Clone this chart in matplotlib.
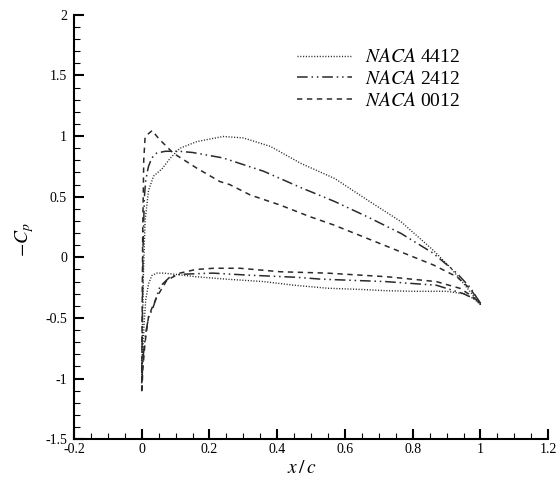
import numpy as np
import matplotlib
matplotlib.use('Agg')
import matplotlib.pyplot as plt
from matplotlib.ticker import MultipleLocator

plt.rcParams['font.family'] = ['Liberation Serif', 'DejaVu Serif']
plt.rcParams['mathtext.fontset'] = 'stix'
plt.rcParams['axes.unicode_minus'] = False

# NACA 4412 压力系数（上、下表面）
x_4412_up = [0.0, 0.002, 0.005, 0.01, 0.02, 0.035, 0.06, 0.085, 0.113, 0.163, 0.24, 0.30, 0.38,
             0.47, 0.57, 0.665, 0.765, 0.86, 0.91, 0.95, 0.98, 1.0]
cp_4412_up = [-1.0, -0.6, -0.15, 0.3, 0.55, 0.67, 0.73, 0.82, 0.90, 0.955, 0.997, 0.985, 0.915,
              0.775, 0.65, 0.475, 0.295, 0.06, -0.08, -0.215, -0.32, -0.39]
x_4412_lo = [0.0, 0.003, 0.007, 0.012, 0.02, 0.03, 0.045, 0.065, 0.10, 0.16, 0.25, 0.36, 0.45,
             0.55, 0.65, 0.72, 0.80, 0.90, 0.95, 0.98, 1.0]
cp_4412_lo = [-1.0, -0.8, -0.55, -0.35, -0.22, -0.15, -0.13, -0.13, -0.14, -0.16, -0.18, -0.20,
              -0.23, -0.255, -0.265, -0.275, -0.28, -0.28, -0.30, -0.34, -0.39]

# NACA 2412
x_2412_up = [0.0, 0.002, 0.004, 0.008, 0.012, 0.02, 0.03, 0.044, 0.07, 0.11, 0.15, 0.24, 0.36,
             0.47, 0.57, 0.665, 0.765, 0.86, 0.93, 0.97, 1.0]
cp_2412_up = [-1.05, -0.5, 0.1, 0.5, 0.64, 0.75, 0.82, 0.86, 0.875, 0.875, 0.865, 0.82, 0.71,
              0.575, 0.46, 0.336, 0.198, 0.035, -0.13, -0.25, -0.38]
x_2412_lo = [0.0, 0.005, 0.012, 0.02, 0.034, 0.054, 0.084, 0.113, 0.21, 0.31, 0.46, 0.53, 0.72,
             0.87, 0.95, 0.98, 1.0]
cp_2412_lo = [-1.05, -0.8, -0.62, -0.5, -0.41, -0.24, -0.16, -0.14, -0.13, -0.146, -0.165, -0.18,
              -0.20, -0.23, -0.30, -0.34, -0.38]

# NACA 0012
x_0012_up = [0.0, 0.001, 0.003, 0.006, 0.01, 0.02, 0.031, 0.05, 0.093, 0.163, 0.231, 0.26, 0.32,
             0.41, 0.497, 0.567, 0.665, 0.764, 0.862, 0.93, 0.97, 1.0]
cp_0012_up = [-1.12, -0.6, 0.2, 0.8, 0.99, 1.02, 1.046, 0.98, 0.86, 0.735, 0.625, 0.60, 0.515,
              0.43, 0.335, 0.267, 0.157, 0.046, -0.064, -0.16, -0.26, -0.38]
x_0012_lo = [0.0, 0.004, 0.01, 0.02, 0.03, 0.044, 0.074, 0.113, 0.16, 0.212, 0.29, 0.41, 0.547,
             0.724, 0.87, 0.94, 0.975, 1.0]
cp_0012_lo = [-1.12, -0.9, -0.7, -0.49, -0.42, -0.33, -0.19, -0.13, -0.10, -0.09, -0.09, -0.119,
              -0.13, -0.16, -0.20, -0.256, -0.32, -0.38]


def loop(xu, cu, xl, cl):
    # 从后缘沿上表面到前缘，再沿下表面回到后缘
    x = np.concatenate([np.array(xu)[::-1], np.array(xl)[1:]])
    c = np.concatenate([np.array(cu)[::-1], np.array(cl)[1:]])
    return x, c


fig = plt.figure(figsize=(5.56, 4.8), dpi=100)
ax = fig.add_axes([0.133, 0.085, 0.853, 0.884])

x, c = loop(x_4412_up, cp_4412_up, x_4412_lo, cp_4412_lo)
ax.plot(x, c, color='#2a2a2a', lw=1.0, linestyle=(0, (0.8, 1.2)), label=r'$NACA$ 4412')
x, c = loop(x_2412_up, cp_2412_up, x_2412_lo, cp_2412_lo)
ax.plot(x, c, color='#2a2a2a', lw=1.1, linestyle=(0, (7, 2.5, 1, 2.5, 1, 2.5)), label=r'$NACA$ 2412')
x, c = loop(x_0012_up, cp_0012_up, x_0012_lo, cp_0012_lo)
ax.plot(x, c, color='#2a2a2a', lw=1.1, linestyle=(0, (3.5, 3)), label=r'$NACA$ 0012')

ax.set_xlim(-0.2, 1.2)
ax.set_ylim(-1.5, 2)
ax.xaxis.set_minor_locator(MultipleLocator(0.05))
ax.yaxis.set_minor_locator(MultipleLocator(0.1))
ax.set_xticks([-0.2, 0, 0.2, 0.4, 0.6, 0.8, 1, 1.2])
ax.set_xticklabels(['-0.2', '0', '0.2', '0.4', '0.6', '0.8', '1', '1.2'])
ax.set_yticks([-1.5, -1, -0.5, 0, 0.5, 1, 1.5, 2])
ax.set_yticklabels(['-1.5', '-1', '-0.5', '0', '0.5', '1', '1.5', '2'])

for s in ['top', 'right']:
    ax.spines[s].set_visible(False)
for s in ['left', 'bottom']:
    ax.spines[s].set_linewidth(1.5)
ax.tick_params(which='major', direction='in', length=7.5, width=1.5, labelsize=10)
ax.tick_params(which='minor', direction='in', length=4, width=0.8)
ax.tick_params(axis='y', which='major', pad=5)
ax.tick_params(axis='x', which='major', pad=3)

ax.set_xlabel(r'$x\,/\,c$', fontsize=14)
ax.set_ylabel(r'$-C_p$', fontsize=14)
ax.yaxis.set_label_coords(-0.08, 0.47)
ax.xaxis.set_label_coords(0.48, -0.05)

ax.legend(loc='upper left', bbox_to_anchor=(0.47, 0.921), frameon=False, fontsize=14,
          borderpad=0, borderaxespad=0, handlelength=2.83, handletextpad=0.67, labelspacing=0.2)

plt.savefig('out.png', dpi=100)
